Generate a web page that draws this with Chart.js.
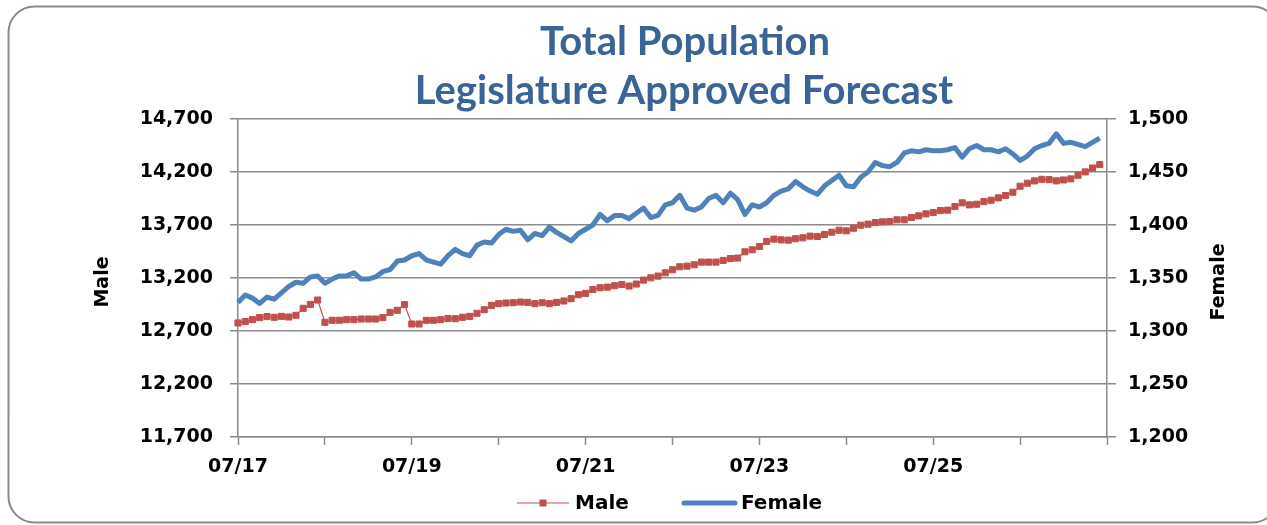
<!DOCTYPE html>
<html>
<head>
<meta charset="utf-8">
<script src="https://cdn.jsdelivr.net/npm/chart.js@4.4.0/dist/chart.umd.min.js"></script>
<style>
  html, body { margin: 0; padding: 0; background: #fff; }
  #wrap { width: 1267px; height: 525px; position: relative; }
</style>
</head>
<body>
<div id="wrap"><canvas id="popChart" width="1267" height="525"></canvas></div>
<script>
// monthly categories 07/17 .. 07/27 (last one only closes the axis)
const months = [];
for (let i = 0; i <= 120; i++) {
    const m = (6 + i) % 12 + 1;
    const yr = 17 + Math.floor((6 + i) / 12);
    months.push(String(m).padStart(2, '0') + '/' + yr);
}

const xTickLabels = ['07/17', '07/19', '07/21', '07/23', '07/25'];

const maleTicks = [11700, 14700, 500];
const femaleTicks = [1200, 1500, 50];

const male = [
    12776, 12789, 12807, 12826, 12836, 12829, 12838, 12832, 12848, 12914, 12951, 12992,
    12782, 12801, 12801, 12807, 12807, 12813, 12813, 12813, 12826, 12876, 12895, 12949,
    12766, 12766, 12801, 12801, 12807, 12818, 12816, 12829, 12838, 12867, 12901, 12942,
    12958, 12964, 12967, 12973, 12970, 12958, 12967, 12958, 12970, 12983, 13005, 13042,
    13055, 13092, 13108, 13114, 13127, 13139, 13124, 13143, 13180, 13202, 13218, 13249,
    13278, 13306, 13312, 13325, 13350, 13350, 13350, 13366, 13384, 13388, 13447, 13466,
    13497, 13545, 13567, 13560, 13557, 13570, 13579, 13595, 13592, 13610, 13632, 13651,
    13645, 13670, 13698, 13708, 13723, 13730, 13733, 13749, 13749, 13771, 13786, 13805,
    13818, 13836, 13840, 13874, 13909, 13890, 13896, 13921, 13934, 13956, 13978, 14009,
    14066, 14094, 14116, 14131, 14128, 14116, 14125, 14135, 14169, 14201, 14238, 14270
];

const female = [
    1327, 1334, 1331, 1326, 1332, 1330, 1336, 1342, 1346, 1345, 1351, 1352,
    1345, 1349, 1352, 1352, 1355, 1349, 1349, 1351, 1356, 1358, 1366, 1367,
    1371, 1373, 1367, 1365, 1363, 1371, 1377, 1373, 1371, 1381, 1384, 1383,
    1391, 1396, 1394, 1395, 1386, 1392, 1390, 1398, 1393, 1389, 1385, 1392,
    1396, 1400, 1410, 1404, 1409, 1409, 1406, 1411, 1416, 1407, 1409, 1419,
    1421, 1428, 1416, 1414, 1417, 1425, 1428, 1421, 1430, 1424, 1410, 1419,
    1417, 1421, 1428, 1432, 1434, 1441, 1436, 1432, 1429, 1437, 1442, 1447,
    1437, 1436, 1445, 1450, 1459, 1456, 1455, 1459, 1468, 1470, 1469, 1471,
    1470, 1470, 1471, 1473, 1464, 1472, 1475, 1471, 1471, 1469, 1472, 1467,
    1461, 1465, 1472, 1475, 1477, 1486, 1477, 1478, 1476, 1474, 1478, 1482
];

const titleLines = ['Total Population', 'Legislature Approved Forecast'];

const RED = '#c0504d';
const BLUE = '#4f81bd';
const GRID = '#8a8a8a';
const TITLE_BLUE = '#3a6496';
const tickFont = { family: 'DejaVu Sans', weight: 'bold', size: 19 };

// title, axis titles, legend and the rounded frame
const decor = {
    id: 'decor',
    afterDraw(chart) {
        const ctx = chart.ctx;
        ctx.save();

        ctx.strokeStyle = GRID;
        ctx.lineWidth = 2;
        ctx.beginPath();
        ctx.roundRect(8.5, 6.5, 1270, 516, 26);
        ctx.stroke();

        ctx.fillStyle = TITLE_BLUE;
        ctx.font = 'bold 40px Lato';
        ctx.textAlign = 'center';
        ctx.textBaseline = 'alphabetic';
        ctx.fillText(titleLines[0], 685, 55);
        ctx.fillText(titleLines[1], 684, 104);

        ctx.fillStyle = '#000';
        ctx.font = 'bold 19px "DejaVu Sans"';
        ctx.textBaseline = 'middle';
        ctx.save();
        ctx.translate(103, 282);
        ctx.rotate(-Math.PI / 2);
        ctx.fillText('Male', 0, 0);
        ctx.restore();
        ctx.save();
        ctx.translate(1219, 282);
        ctx.rotate(-Math.PI / 2);
        ctx.fillText('Female', 0, 0);
        ctx.restore();

        // legend
        const ly = 503;
        ctx.strokeStyle = RED;
        ctx.lineWidth = 1.2;
        ctx.beginPath();
        ctx.moveTo(517, ly);
        ctx.lineTo(569, ly);
        ctx.stroke();
        ctx.fillStyle = RED;
        ctx.fillRect(539.5, ly - 3.5, 7, 7);

        ctx.strokeStyle = BLUE;
        ctx.lineWidth = 5;
        ctx.lineCap = 'round';
        ctx.beginPath();
        ctx.moveTo(684, ly);
        ctx.lineTo(735, ly);
        ctx.stroke();

        ctx.fillStyle = '#000';
        ctx.font = 'bold 20px "DejaVu Sans"';
        ctx.textAlign = 'left';
        ctx.fillText('Male', 575, ly + 1);
        ctx.fillText('Female', 741, ly + 1);

        ctx.restore();
    }
};

const popChart = new Chart(document.getElementById('popChart'), {
    type: 'line',
    data: {
        labels: months,
        datasets: [
            {
                label: 'Female',
                data: female,
                yAxisID: 'y1',
                borderColor: BLUE,
                borderWidth: 5,
                borderJoinStyle: 'round',
                pointRadius: 0,
                tension: 0
            },
            {
                label: 'Male',
                data: male,
                yAxisID: 'y',
                borderColor: RED,
                backgroundColor: RED,
                borderWidth: 1.2,
                pointStyle: 'rect',
                pointRadius: 4.3,
                pointBorderWidth: 1,
                pointBorderColor: RED,
                pointBackgroundColor: RED,
                tension: 0
            }
        ]
    },
    options: {
        responsive: false,
        animation: false,
        layout: { padding: { top: 119, left: 0, right: 0, bottom: 0 } },
        plugins: {
            legend: { display: false },
            title: { display: false },
            tooltip: { enabled: false }
        },
        scales: {
            x: {
                type: 'category',
                offset: false,
                afterFit: (s) => { s.height = 88; },
                border: { color: GRID, width: 1.5 },
                grid: {
                    drawOnChartArea: false,
                    tickLength: 8,
                    tickWidth: 1.5,
                    tickColor: (c) => (months[c.index] || '').startsWith('07/') ? GRID : 'rgba(0,0,0,0)'
                },
                ticks: {
                    autoSkip: false,
                    maxRotation: 0,
                    padding: 11,
                    color: '#000',
                    font: tickFont,
                    callback: function (v, i) {
                        const lab = months[i];
                        return xTickLabels.includes(lab) ? lab : '';
                    }
                }
            },
            y: {
                position: 'left',
                min: maleTicks[0],
                max: maleTicks[1],
                afterFit: (s) => { s.width = 238; },
                border: { color: GRID, width: 1.5 },
                grid: { color: GRID, lineWidth: 1.5, tickLength: 8 },
                ticks: {
                    stepSize: maleTicks[2],
                    padding: 17,
                    color: '#000',
                    font: tickFont,
                    callback: (v) => v.toLocaleString('en-US')
                }
            },
            y1: {
                position: 'right',
                min: femaleTicks[0],
                max: femaleTicks[1],
                afterFit: (s) => { s.width = 160; },
                border: { color: GRID, width: 1.5 },
                grid: { drawOnChartArea: false, color: GRID, lineWidth: 1.5, tickLength: 9 },
                ticks: {
                    stepSize: femaleTicks[2],
                    padding: 12,
                    color: '#000',
                    font: tickFont,
                    callback: (v) => v.toLocaleString('en-US')
                }
            }
        }
    },
    plugins: [decor]
});
</script>
</body>
</html>
